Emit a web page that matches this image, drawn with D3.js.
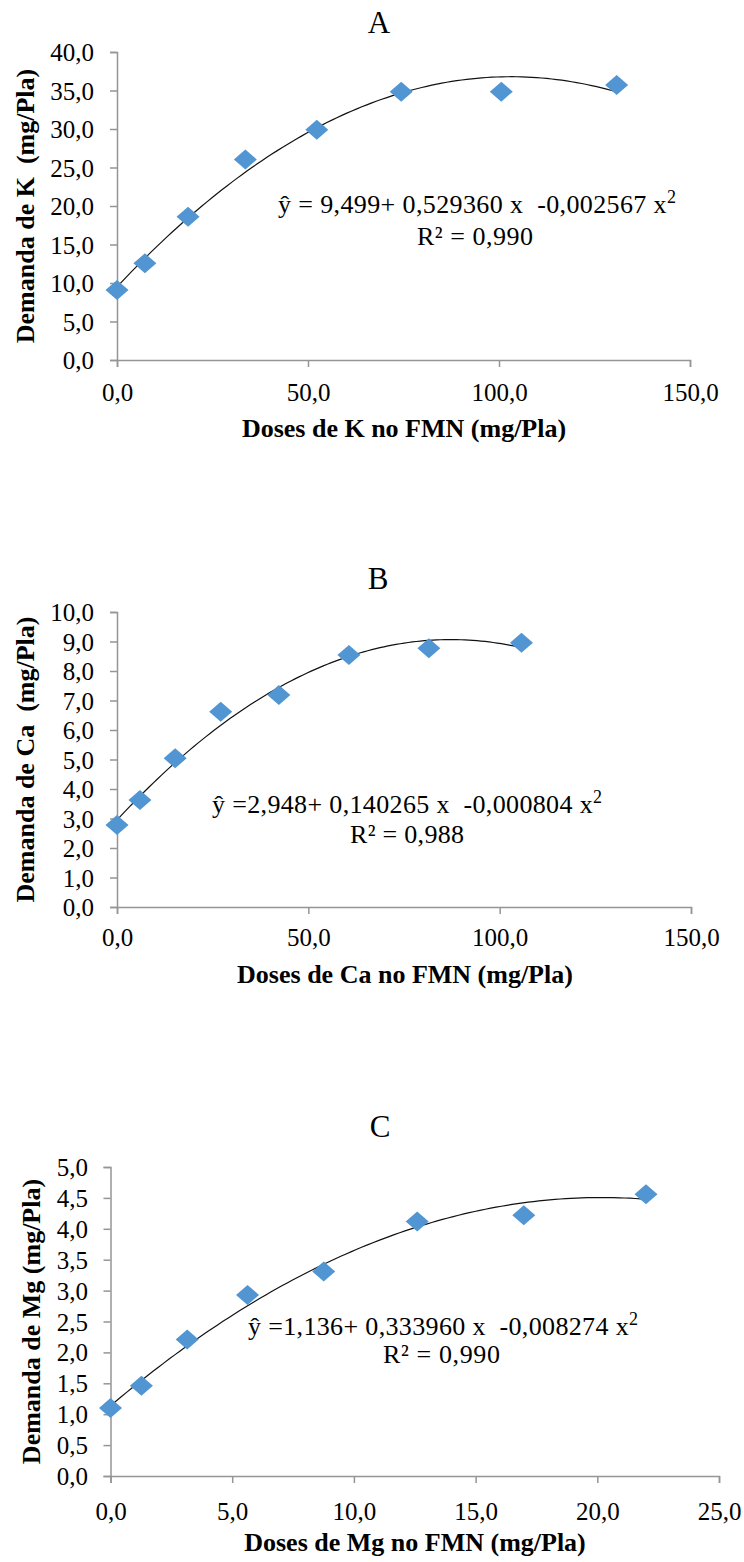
<!DOCTYPE html>
<html>
<head>
<meta charset="utf-8">
<script src="https://cdnjs.cloudflare.com/ajax/libs/d3/7.8.5/d3.min.js"></script>
<style>
  html, body { margin: 0; padding: 0; background: #fff; }
  svg { display: block; }
  text { font-family: "Liberation Serif", "Times New Roman", "DejaVu Serif", serif; fill: #000; }
</style>
</head>
<body>
<svg id="chart" width="744" height="1562"></svg>
<script>
// ---------- DATA ----------
const panelTitles = ["A", "B", "C"];

const kDose = [0, 7.3, 18.6, 33.6, 52.3, 74.4, 100.6, 130.8];
const kDemand = [9.1, 12.55, 18.6, 26.05, 29.9, 34.85, 34.85, 35.7];
const kCoef = [9.499, 0.529360, -0.002567];
const kXTicks = [0, 50, 100, 150];
const kYTicks = [0, 5, 10, 15, 20, 25, 30, 35, 40];

const caDose = [0, 6.0, 15.2, 27.1, 42.3, 60.6, 81.5, 105.7];
const caDemand = [2.78, 3.63, 5.04, 6.62, 7.19, 8.54, 8.77, 8.96];
const caCoef = [2.948, 0.140265, -0.000804];
const caXTicks = [0, 50, 100, 150];
const caYTicks = [0, 1, 2, 3, 4, 5, 6, 7, 8, 9, 10];

const mgDose = [0, 1.27, 3.15, 5.63, 8.76, 12.6, 16.98, 22.0];
const mgDemand = [1.10, 1.46, 2.21, 2.93, 3.31, 4.12, 4.22, 4.56];
const mgCoef = [1.136, 0.333960, -0.008274];
const mgXTicks = [0, 5, 10, 15, 20, 25];
const mgYTicks = [0, 0.5, 1, 1.5, 2, 2.5, 3, 3.5, 4, 4.5, 5];

const xLabels = ["Doses de K no FMN (mg/Pla)", "Doses de Ca no FMN (mg/Pla)", "Doses de Mg no FMN (mg/Pla)"];
const yLabels = ["Demanda de K  (mg/Pla)", "Demanda de Ca  (mg/Pla)", "Demanda de Mg (mg/Pla)"];
const eqMain = [
  "\u0177 = 9,499+ 0,529360 x  -0,002567 x",
  "\u0177 =2,948+ 0,140265 x  -0,000804 x",
  "\u0177 =1,136+ 0,333960 x  -0,008274 x"
];
const eqR2 = ["R\u00b2 = 0,990", "R\u00b2 = 0,988", "R\u00b2 = 0,990"];

// ---------- LAYOUT ----------
const layouts = [
  { left: 117, right: 690, top: 52, bottom: 360, titleX: 379, titleY: 33,
    yLabX: 25, xLabX: 404, xLabY: 437, tickLabY: 401, yTickEnd: 94,
    eqX: 278, eqY: 213, eqW: 398, r2X: 417, r2Y: 245, r2W: 116 },
  { left: 117, right: 691, top: 612, bottom: 907, titleX: 378, titleY: 589,
    yLabX: 25, xLabX: 405, xLabY: 983, tickLabY: 946, yTickEnd: 94,
    eqX: 212, eqY: 813, eqW: 390, r2X: 350, r2Y: 843, r2W: 114 },
  { left: 110.5, right: 719, top: 1167, bottom: 1476, titleX: 380, titleY: 1137,
    yLabX: 31, xLabX: 415, xLabY: 1551, tickLabY: 1520, yTickEnd: 88,
    eqX: 248, eqY: 1335, eqW: 390, r2X: 383, r2Y: 1363, r2W: 117 }
];

const panels = [
  { x: kDose, y: kDemand, coef: kCoef, xt: kXTicks, yt: kYTicks },
  { x: caDose, y: caDemand, coef: caCoef, xt: caXTicks, yt: caYTicks },
  { x: mgDose, y: mgDemand, coef: mgCoef, xt: mgXTicks, yt: mgYTicks }
];

const svg = d3.select("#chart");
const fmt = v => d3.format(".1f")(v).replace(".", ",");
const axisColor = "#959595";
const markColor = "#5196d3";
const serif = "'Liberation Serif', 'Times New Roman', 'DejaVu Serif', serif";

panels.forEach((p, i) => {
  const L = layouts[i];
  const x = d3.scaleLinear().domain([p.xt[0], p.xt[p.xt.length - 1]]).range([L.left, L.right]);
  const y = d3.scaleLinear().domain([p.yt[0], p.yt[p.yt.length - 1]]).range([L.bottom, L.top]);
  const g = svg.append("g");

  // title
  g.append("text").attr("x", L.titleX).attr("y", L.titleY)
    .attr("text-anchor", "middle").style("font-size", "31px").text(panelTitles[i]);

  // y axis
  const ya = g.append("g").attr("transform", `translate(${L.left},0)`)
    .call(d3.axisLeft(y).tickValues(p.yt).tickSize(7).tickPadding(0).tickFormat(fmt));
  ya.attr("font-family", serif);
  ya.select(".domain").attr("stroke", axisColor).attr("stroke-width", 1.5);
  ya.selectAll(".tick line").attr("stroke", axisColor).attr("stroke-width", 1.5);
  ya.selectAll(".tick text")
    .attr("x", L.yTickEnd - L.left)
    .attr("dy", "0.34em")
    .style("font-size", "25px")
    .style("font-family", serif)
    .attr("fill", "#000");

  // x axis
  const xa = g.append("g").attr("transform", `translate(0,${L.bottom})`)
    .call(d3.axisBottom(x).tickValues(p.xt).tickSize(7).tickPadding(0).tickFormat(fmt));
  xa.attr("font-family", serif);
  xa.select(".domain").attr("stroke", axisColor).attr("stroke-width", 1.5);
  xa.selectAll(".tick line").attr("stroke", axisColor).attr("stroke-width", 1.5);
  xa.selectAll(".tick text")
    .attr("y", L.tickLabY - L.bottom)
    .attr("dy", 0)
    .style("font-size", "25px")
    .style("font-family", serif)
    .attr("fill", "#000");

  // axis titles
  g.append("text").attr("x", L.xLabX).attr("y", L.xLabY)
    .attr("text-anchor", "middle").style("font-size", "26px").style("font-weight", "bold")
    .style("white-space", "pre").text(xLabels[i]);
  const yMid = (L.top + L.bottom) / 2;
  g.append("text")
    .attr("transform", `translate(${L.yLabX},${yMid}) rotate(-90)`)
    .attr("text-anchor", "middle").attr("dominant-baseline", "central")
    .style("font-size", "26px").style("font-weight", "bold")
    .style("white-space", "pre").text(yLabels[i]);

  // fitted curve from the equation shown in the chart
  const xMax = d3.max(p.x);
  const samples = d3.range(0, 101).map(k => (xMax * k) / 100);
  const curve = d3.line()
    .x(v => x(v))
    .y(v => y(p.coef[0] + p.coef[1] * v + p.coef[2] * v * v))
    .curve(d3.curveLinear);
  g.append("path").attr("d", curve(samples))
    .attr("fill", "none").attr("stroke", "#111").attr("stroke-width", 1.2);

  // diamond markers
  const hw = 11.5, hh = 10;
  g.selectAll("path.pt").data(p.x.map((v, k) => [v, p.y[k]])).enter()
    .append("path").attr("class", "pt")
    .attr("transform", d => `translate(${x(d[0])},${y(d[1])})`)
    .attr("d", `M0,${-hh}L${hw},0L0,${hh}L${-hw},0Z`)
    .attr("fill", markColor);

  // equation text
  const eq = g.append("text").attr("x", L.eqX).attr("y", L.eqY)
    .style("font-size", "26px").style("white-space", "pre")
    .attr("textLength", L.eqW).attr("lengthAdjust", "spacing");
  eq.append("tspan").text(eqMain[i]);
  eq.append("tspan").attr("dy", -10).style("font-size", "18px").text("2");
  g.append("text").attr("x", L.r2X).attr("y", L.r2Y)
    .style("font-size", "26px").style("white-space", "pre")
    .attr("textLength", L.r2W).attr("lengthAdjust", "spacing")
    .text(eqR2[i]);
});
</script>
</body>
</html>
